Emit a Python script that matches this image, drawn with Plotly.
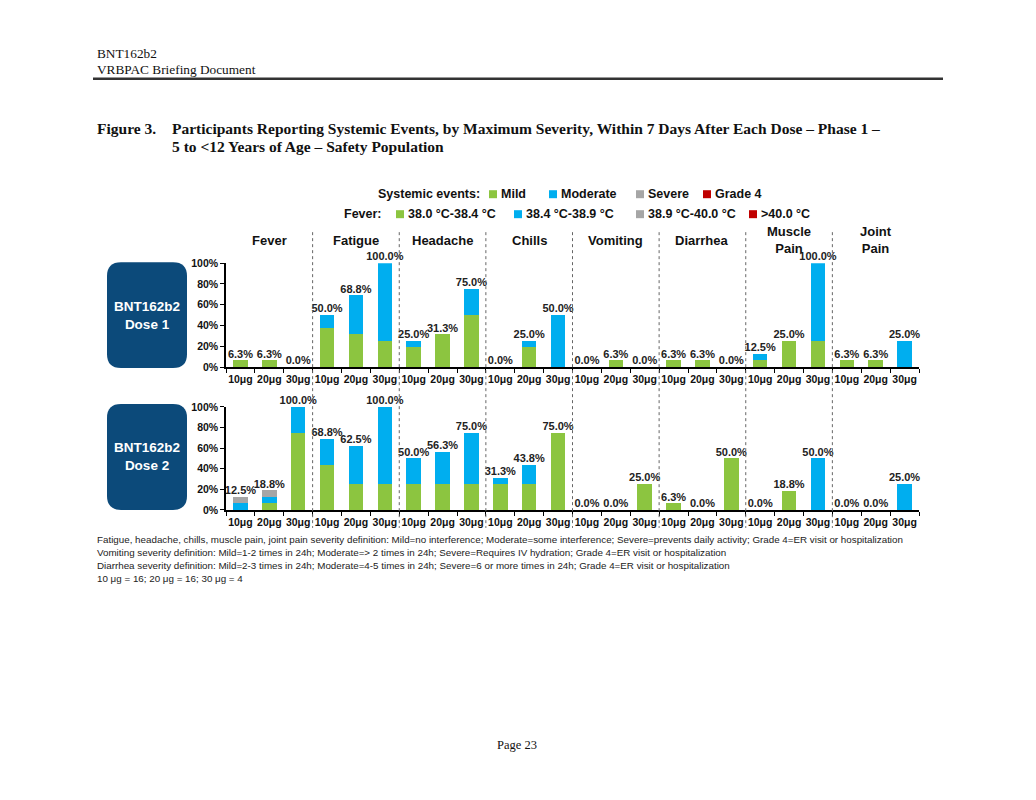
import plotly.graph_objects as go

W, H = 1036, 800

categories = ["Fever", "Fatigue", "Headache", "Chills", "Vomiting", "Diarrhea", "Muscle<br>Pain", "Joint<br>Pain"]
doses = ["10μg", "20μg", "30μg"]
tick_labels = [d for _ in categories for d in doses]

# Dose 1 (percent)
d1_mild     = [6.3, 6.3, 0, 37.5, 31.3, 25.0, 18.8, 31.3, 50.0, 0, 18.8, 0, 0, 6.3, 0, 6.3, 6.3, 0, 6.3, 25.0, 25.0, 6.3, 6.3, 0]
d1_moderate = [0, 0, 0, 12.5, 37.5, 75.0, 6.3, 0, 25.0, 0, 6.3, 50.0, 0, 0, 0, 0, 0, 0, 6.3, 0, 75.0, 0, 0, 25.0]
d1_severe   = [0] * 24
d1_grade4   = [0] * 24
d1_total    = [6.3, 6.3, 0.0, 50.0, 68.8, 100.0, 25.0, 31.3, 75.0, 0.0, 25.0, 50.0, 0.0, 6.3, 0.0, 6.3, 6.3, 0.0, 12.5, 25.0, 100.0, 6.3, 6.3, 25.0]

# Dose 2 (percent)
d2_mild     = [0, 6.3, 75.0, 43.8, 25.0, 25.0, 25.0, 25.0, 25.0, 25.0, 25.0, 75.0, 0, 0, 25.0, 6.3, 0, 50.0, 0, 18.8, 0, 0, 0, 0]
d2_moderate = [6.3, 6.3, 25.0, 25.0, 37.5, 75.0, 25.0, 31.3, 50.0, 6.3, 18.8, 0, 0, 0, 0, 0, 0, 0, 0, 0, 50.0, 0, 0, 25.0]
d2_severe   = [6.3, 6.3, 0, 0, 0, 0, 0, 0, 0, 0, 0, 0, 0, 0, 0, 0, 0, 0, 0, 0, 0, 0, 0, 0]
d2_grade4   = [0] * 24
d2_total    = [12.5, 18.8, 100.0, 68.8, 62.5, 100.0, 50.0, 56.3, 75.0, 31.3, 43.8, 75.0, 0.0, 0.0, 25.0, 6.3, 0.0, 50.0, 0.0, 18.8, 50.0, 0.0, 0.0, 25.0]

sev_names = ["Mild", "Moderate", "Severe", "Grade 4"]
fever_names = ["38.0 °C-38.4 °C", "38.4 °C-38.9 °C", "38.9 °C-40.0 °C", ">40.0 °C"]
colors = ["#8CC540", "#00AEEF", "#A6A6A6", "#C00000"]

SANS = "Liberation Sans, Arial, sans-serif"
SERIF = "Liberation Serif, Times New Roman, serif"

# the captured page shows the figure slightly squeezed vertically; compensate
YS, YO = 0.986, 5.6

def px(x):
    return x / W

def py(y):
    return 1 - ((y - YO) / YS) / H

xs = list(range(24))
fig = go.Figure()

for (mild, mod, sev, g4, tot, xa, ya) in [
    (d1_mild, d1_moderate, d1_severe, d1_grade4, d1_total, "x", "y"),
    (d2_mild, d2_moderate, d2_severe, d2_grade4, d2_total, "x2", "y2"),
]:
    for vals, name, col in zip([mild, mod, sev, g4], sev_names, colors):
        fig.add_trace(go.Bar(x=xs, y=vals, name=name, marker=dict(color=col, line=dict(width=0)),
                             width=0.5, xaxis=xa, yaxis=ya, showlegend=False))
    fig.add_trace(go.Scatter(x=xs, y=tot, mode="text", text=[f"{v:.1f}%" for v in tot],
                             textposition="top center", cliponaxis=False,
                             textfont=dict(family=SANS, size=11, color="#222", weight="bold"),
                             xaxis=xa, yaxis=ya, showlegend=False, hoverinfo="skip"))

xdom = [px(226), px(919)]
common_x = dict(domain=xdom, range=[-0.5, 23.5], tickmode="array", tickvals=xs, ticktext=tick_labels,
                showline=True, linecolor="black", linewidth=1.5, ticks="", showgrid=False, zeroline=False,
                ticklabelstandoff=2,
                tickfont=dict(family=SANS, size=10.5, color="#111", weight="bold"),
                minor=dict(tickmode="array", tickvals=[i - 0.5 for i in range(25)], ticks="outside",
                           ticklen=4, tickcolor="black", tickwidth=1))
common_y = dict(range=[0, 100], tickmode="array", tickvals=[0, 20, 40, 60, 80, 100],
                ticktext=["0%", "20%", "40%", "60%", "80%", "100%"], showline=True, linecolor="black",
                linewidth=1.5, ticks="outside", ticklen=4, tickcolor="black", showgrid=False, zeroline=False,
                tickfont=dict(family=SANS, size=10.5, color="#111", weight="bold"))

fig.update_layout(
    width=W, height=H, margin=dict(l=0, r=0, t=0, b=0),
    paper_bgcolor="white", plot_bgcolor="white", barmode="stack", bargap=0,
    xaxis=dict(anchor="y", **common_x),
    yaxis=dict(domain=[py(367), py(263)], anchor="x", **common_y),
    xaxis2=dict(anchor="y2", **common_x),
    yaxis2=dict(domain=[py(510), py(407)], anchor="x2", **common_y),
    showlegend=False,
)

shapes = []
annotations = []

def text_at(x, y, t, size, family=SANS, bold=False, anchor="left", color="#111"):
    f = dict(family=family, size=size, color=color)
    if bold:
        f["weight"] = "bold"
    annotations.append(dict(x=px(x), y=py(y), xref="paper", yref="paper", xanchor=anchor, yanchor="middle",
                            text=t, showarrow=False, font=f))

# header
text_at(95, 53, "BNT162b2", 13.3, SERIF)
text_at(95, 69, "VRBPAC Briefing Document", 13.3, SERIF)
shapes.append(dict(type="line", xref="paper", yref="paper", x0=px(93), x1=px(943), y0=py(78.5), y1=py(78.5),
                   line=dict(color="#333", width=2.5)))

# title
text_at(95, 128, "<b>Figure 3.</b>", 15.5, SERIF)
text_at(170, 128, "<b>Participants Reporting Systemic Events, by Maximum Severity, Within 7 Days After Each Dose – Phase 1 –</b>", 15.5, SERIF)
text_at(170, 146, "<b>5 to &lt;12 Years of Age – Safety Population</b>", 15.5, SERIF)

# legend rows (layout positions in px)
text_at(376, 194, "Systemic events:", 12.5, bold=True)
for c, n, sx in zip(colors, sev_names, [489, 549, 636, 703]):
    shapes.append(dict(type="rect", xref="paper", yref="paper", x0=px(sx), x1=px(sx + 8),
                       y0=py(198), y1=py(190), fillcolor=c, line=dict(width=0)))
    text_at(sx + 10, 194, n, 12.5, bold=True)
text_at(342, 214, "Fever:", 12.5, bold=True)
for c, n, sx in zip(colors, fever_names, [396, 514, 636, 749]):
    shapes.append(dict(type="rect", xref="paper", yref="paper", x0=px(sx), x1=px(sx + 8),
                       y0=py(218), y1=py(210), fillcolor=c, line=dict(width=0)))
    text_at(sx + 10, 214, n.replace(">", "&gt;"), 12.5, bold=True)

# category headers
for i, c in enumerate(categories):
    annotations.append(dict(x=3 * i + 1, y=py(240), xref="x", yref="paper", xanchor="center", yanchor="middle",
                            text=c, showarrow=False,
                            font=dict(family=SANS, size=13, color="#111", weight="bold")))

# separators
for k in range(1, 8):
    shapes.append(dict(type="line", xref="x", yref="paper", x0=3 * k - 0.5, x1=3 * k - 0.5,
                       y0=py(232), y1=py(528), line=dict(color="#666", width=1, dash="dot")))

# dose boxes
def rrect(x0, y0, x1, y1, r):
    X0, X1 = px(x0), px(x1)
    Y0, Y1 = py(y1), py(y0)
    rx, ry = r / W, r / H
    return (f"M{X0+rx},{Y0} L{X1-rx},{Y0} Q{X1},{Y0} {X1},{Y0+ry} L{X1},{Y1-ry} Q{X1},{Y1} {X1-rx},{Y1} "
            f"L{X0+rx},{Y1} Q{X0},{Y1} {X0},{Y1-ry} L{X0},{Y0+ry} Q{X0},{Y0} {X0+rx},{Y0} Z")

for (y0, y1, label) in [(262, 368, "BNT162b2<br>Dose 1"), (404, 510, "BNT162b2<br>Dose 2")]:
    shapes.append(dict(type="path", xref="paper", yref="paper", path=rrect(107, y0, 187, y1, 14),
                       fillcolor="#0C4A7A", line=dict(width=0)))
    text_at(147, (y0 + y1) / 2, label, 13.5, bold=True, anchor="center", color="white")

# footnotes
notes = [
    "Fatigue, headache, chills, muscle pain, joint pain severity definition: Mild=no interference; Moderate=some interference; Severe=prevents daily activity; Grade 4=ER visit or hospitalization",
    "Vomiting severity definition: Mild=1-2 times in 24h; Moderate=> 2 times in 24h; Severe=Requires IV hydration; Grade 4=ER visit or hospitalization",
    "Diarrhea severity definition: Mild=2-3 times in 24h; Moderate=4-5 times in 24h; Severe=6 or more times in 24h; Grade 4=ER visit or hospitalization",
    "10 μg = 16; 20 μg = 16; 30 μg = 4",
]
for i, n in enumerate(notes):
    text_at(95, 540 + 13 * i, n.replace("<", "&lt;").replace(">", "&gt;"), 9.8, color="#222")

text_at(517, 745, "Page 23", 12.5, SERIF, anchor="center")

fig.update_layout(shapes=shapes, annotations=annotations)
fig.write_html("out.html", config={"displayModeBar": False},
               post_script="document.body.style.margin='0px';")
